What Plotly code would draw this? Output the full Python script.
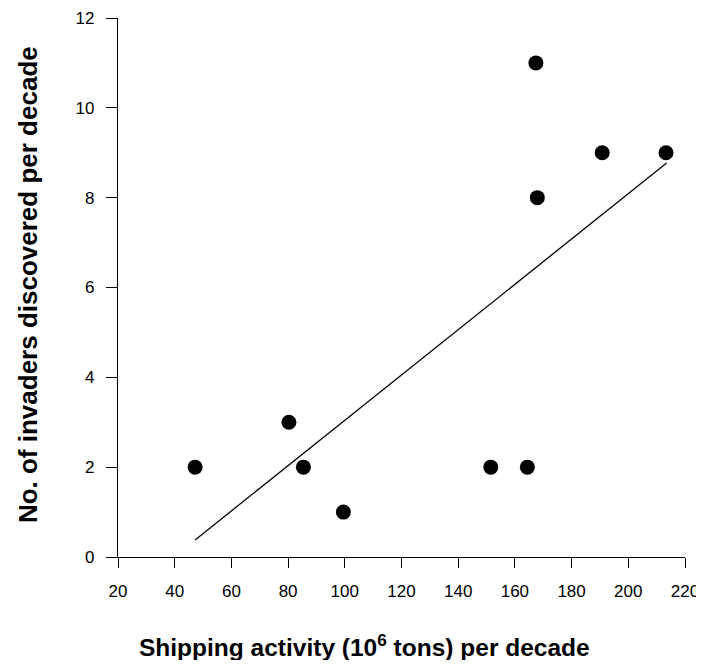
import plotly.graph_objects as go

shipping = [47.2, 80.3, 85.4, 99.5, 151.5, 164.4, 167.4, 167.9, 190.8, 213.3]
invaders = [2, 3, 2, 1, 2, 2, 11, 8, 9, 9]
fit_x = [47.2, 213.5]
fit_y = [0.38, 8.77]

x_ticks = [20, 40, 60, 80, 100, 120, 140, 160, 180, 200, 220]
y_ticks = [0, 2, 4, 6, 8, 10, 12]

x_title = "<b>Shipping activity (10<sup>6</sup> tons) per decade</b>"
y_title = "<b>No. of invaders discovered per decade</b>"

font_family = "Arial, Liberation Sans, sans-serif"

fig = go.Figure()
fig.add_trace(go.Scatter(x=fit_x, y=fit_y, mode="lines",
                         line=dict(color="black", width=1.3), showlegend=False))
fig.add_trace(go.Scatter(x=shipping, y=invaders, mode="markers",
                         marker=dict(color="black", size=15), showlegend=False))

fig.update_layout(
    width=696, height=652,
    margin=dict(l=110, r=19, t=10, b=103),
    paper_bgcolor="white", plot_bgcolor="white",
    font=dict(family=font_family, size=17, color="black"),
    xaxis=dict(range=[20, 220], tickvals=x_ticks, ticks="outside", ticklen=10,
               tickcolor="black", showline=True, linecolor="black", linewidth=1.3,
               showgrid=False, zeroline=False, ticklabelstandoff=8,
               ticklabeloverflow="allow", automargin=False),
    yaxis=dict(range=[0, 12], tickvals=y_ticks, ticks="outside", ticklen=11,
               tickcolor="black", showline=True, linecolor="black", linewidth=1.3,
               showgrid=False, zeroline=False, ticklabelstandoff=8,
               ticklabeloverflow="allow", automargin=False),
    annotations=[
        dict(text=x_title, xref="paper", yref="paper", x=0.434, y=-0.165,
             xanchor="center", yanchor="middle", showarrow=False,
             font=dict(size=24.5)),
        dict(text=y_title, xref="paper", yref="paper", x=-0.159, y=0.506,
             xanchor="center", yanchor="middle", showarrow=False, textangle=-90,
             font=dict(size=26)),
    ],
)

fig.write_html("out.html")
